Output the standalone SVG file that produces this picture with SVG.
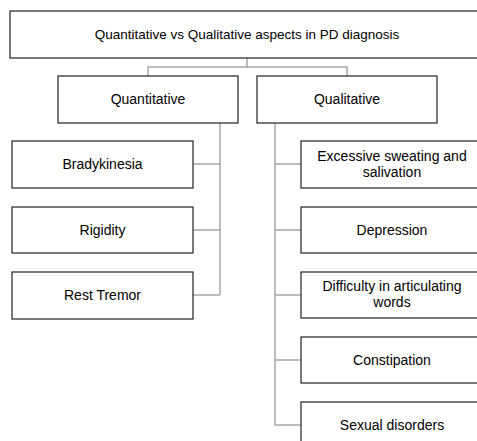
<svg xmlns="http://www.w3.org/2000/svg" width="477" height="441" viewBox="0 0 477 441">
<style>
.box{fill:#fff;stroke:#222;stroke-width:1.2}
.t{font-family:"Liberation Sans",Arial,sans-serif;font-size:14px;fill:#000;text-anchor:middle}
.c{fill:none;stroke:#a6a6a6;stroke-width:1.5}
</style>
<rect width="477" height="441" fill="#fff"/>
<g id="connectors">
<path class="c" d="M247 58V67M148 76V67H347V76"/>
<path class="c" d="M220 123V295M193 164H220M193 230H220M193 295H220"/>
<path class="c" d="M275 123V425M275 164H301M275 230H301M275 295H301M275 360H301M275 425H301"/>
</g>
<g id="root"><rect class="box" x="10" y="11" width="474" height="47"/><text class="t" x="247" y="39" style="font-size:13.5px">Quantitative vs Qualitative aspects in PD diagnosis</text></g>
<g id="quantitative"><rect class="box" x="58" y="76" width="180" height="47"/><text class="t" x="148" y="104">Quantitative</text></g>
<g id="qualitative"><rect class="box" x="257" y="76" width="180" height="47"/><text class="t" x="347" y="104">Qualitative</text></g>
<g id="bradykinesia"><rect class="box" x="12" y="141" width="181" height="47"/><text class="t" x="102.5" y="169">Bradykinesia</text></g>
<g id="rigidity"><rect class="box" x="12" y="207" width="181" height="46"/><text class="t" x="102.5" y="235">Rigidity</text></g>
<g id="rest-tremor"><rect class="box" x="12" y="272" width="181" height="47"/><text class="t" x="102.5" y="300">Rest Tremor</text></g>
<g id="sweating"><rect class="box" x="301" y="141" width="182" height="47"/><text class="t" x="392" y="161">Excessive sweating and</text><text class="t" x="392" y="177">salivation</text></g>
<g id="depression"><rect class="box" x="301" y="207" width="182" height="46"/><text class="t" x="392" y="235">Depression</text></g>
<g id="articulating"><rect class="box" x="301" y="272" width="182" height="46"/><text class="t" x="392" y="291">Difficulty in articulating</text><text class="t" x="392" y="307">words</text></g>
<g id="constipation"><rect class="box" x="301" y="337" width="182" height="46"/><text class="t" x="392" y="365">Constipation</text></g>
<g id="sexual"><rect class="box" x="301" y="402" width="182" height="47"/><text class="t" x="392" y="430">Sexual disorders</text></g>
</svg>
